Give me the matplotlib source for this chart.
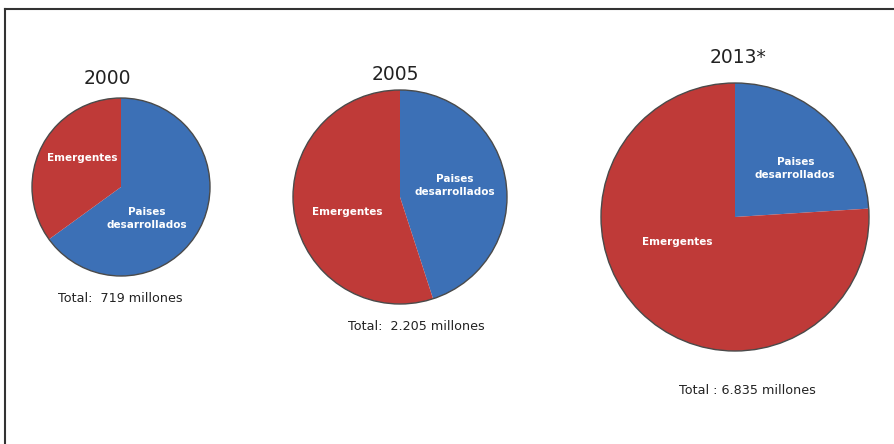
import matplotlib
matplotlib.use("Agg")
import matplotlib.pyplot as plt
from matplotlib.patches import Circle
from matplotlib.lines import Line2D

# Mobile subscriptions share (%) by group of countries
years = ["2000", "2005", "2013*"]
desarrollados = [65, 45, 24]
emergentes = [35, 55, 76]
totales = ["Total:  719 millones", "Total:  2.205 millones", "Total : 6.835 millones"]
label_des = "Paises\ndesarrollados"
label_emer = "Emergentes"

# Layout in pixel units (figure is 894 x 444)
W, H = 894, 444
centers = [(121, 187), (400, 197), (735, 217)]
radii = [89, 107, 134]
title_pos = [(107, 78), (395, 75), (738, 58)]
total_pos = [(120, 298), (416, 327), (747, 390)]
des_off = [(0.29, 0.35), (0.51, -0.11), (0.45, -0.36)]
emer_off = [(-0.44, -0.33), (-0.49, 0.14), (-0.43, 0.19)]

BLUE = "#3C70B6"
RED = "#BF3A38"
FONT = ["DejaVu Sans"]

fig = plt.figure(figsize=(W / 100, H / 100), dpi=100)
ax = fig.add_axes([0, 0, 1, 1])

for i in range(len(years)):
    cx, cy = centers[i]
    r = radii[i]
    yy = H - cy
    ax.pie([desarrollados[i], emergentes[i]], colors=[BLUE, RED],
           startangle=90, counterclock=False, center=(cx, yy), radius=r,
           wedgeprops=dict(linewidth=0, edgecolor="none"), frame=True)
    ax.add_patch(Circle((cx, yy), r, fill=False, edgecolor="#4a4a4a", linewidth=1.0))

    dx, dy = des_off[i]
    ax.text(cx + dx * r, yy - dy * r, label_des, color="white", fontsize=7.5,
            fontweight="bold", ha="center", va="center", family=FONT, linespacing=1.35)
    ex, ey = emer_off[i]
    ax.text(cx + ex * r, yy - ey * r, label_emer, color="white", fontsize=7.5,
            fontweight="bold", ha="center", va="center", family=FONT)

    tx, ty = title_pos[i]
    ax.text(tx, H - ty, years[i], fontsize=13.5, ha="center", va="center",
            color="#222222", family=FONT)
    sx, sy = total_pos[i]
    ax.text(sx, H - sy, totales[i], fontsize=9.2, ha="center", va="center",
            color="#222222", family=FONT)

ax.set_xlim(0, W)
ax.set_ylim(0, H)
ax.set_aspect("equal")
ax.axis("off")

# Frame lines along the top and left edges
fig.add_artist(Line2D([5 / W, 1], [1 - 9 / H, 1 - 9 / H], color="#333333",
                      linewidth=1.5, transform=fig.transFigure))
fig.add_artist(Line2D([5 / W, 5 / W], [0, 1 - 9 / H], color="#333333",
                      linewidth=1.5, transform=fig.transFigure))

fig.savefig("out.png", dpi=100)
